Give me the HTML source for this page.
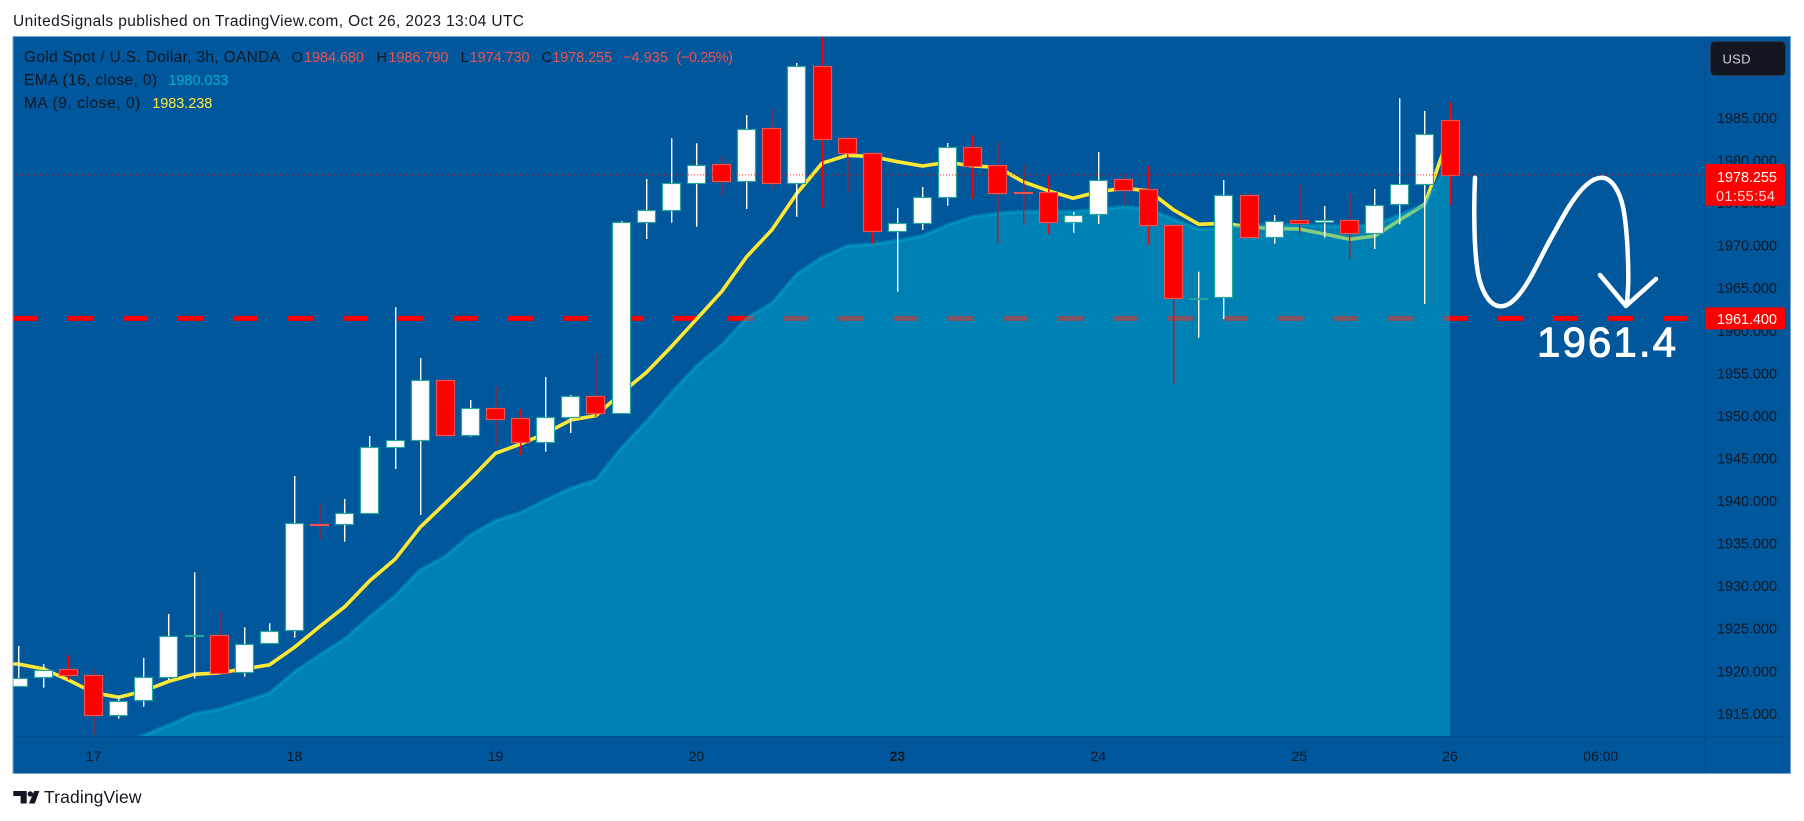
<!DOCTYPE html>
<html lang="en">
<head>
<meta charset="utf-8">
<title>Gold Spot / U.S. Dollar 3h chart</title>
<style>
html,body{margin:0;padding:0;background:#fff;width:1804px;height:821px;overflow:hidden}
svg{display:block}
text{font-family:"Liberation Sans",sans-serif}
</style>
</head>
<body>
<svg id="chart" xmlns="http://www.w3.org/2000/svg" width="1804" height="821" viewBox="0 0 1804 821">
  <defs>
    <clipPath id="pane-clip"><rect x="13.5" y="37" width="1691.5" height="699"/></clipPath>
  </defs>
  <rect x="0" y="0" width="1804" height="821" fill="#ffffff"/>
  <text x="13" y="26" font-size="15.5" fill="#131722" textLength="511" lengthAdjust="spacing">UnitedSignals published on TradingView.com, Oct 26, 2023 13:04 UTC</text>

  <rect x="13" y="36.5" width="1777.5" height="737" fill="#00579b" stroke="#7ba5cf" stroke-width="1"/>
  <line x1="1705" y1="37" x2="1705" y2="773" stroke="#004e8c" stroke-width="1"/>
  <line x1="13.5" y1="736.5" x2="1790" y2="736.5" stroke="#004e8c" stroke-width="1"/>

  <g id="plot" clip-path="url(#pane-clip)"></g>
  <g id="price-axis"></g>
  <g id="time-axis"></g>

  <g fill="none" stroke="#ffffff" stroke-width="4.5" stroke-linecap="round" stroke-linejoin="round">
    <path d="M1475 177.7C1473.5 215 1474 262 1480 281.7C1484 295 1491 306.3 1500.7 306.3C1512 306.3 1522 292 1530 278.3C1538 264 1544 251 1550 240C1558 226 1563 216 1570 205C1580 189.5 1591 177.7 1601.7 177.7C1612 177.7 1620 192 1623.3 208.3C1627 228 1628 250 1628.3 275C1628.5 288 1627.5 297 1626.7 305"/>
    <path d="M1600 275L1626 306L1656 279"/>
  </g>
  <text x="1537" y="356.7" font-size="42" fill="#ffffff" stroke="#ffffff" stroke-width="1" textLength="139" lengthAdjust="spacing">1961.4</text>

  <g font-size="14.5">
    <text x="24" y="62" fill="#131722" font-size="15.5" textLength="256" lengthAdjust="spacing">Gold Spot / U.S. Dollar, 3h, OANDA</text>
    <text x="291.5" y="62" fill="#131722">O</text>
    <text x="304" y="62" fill="#ef5350" textLength="60" lengthAdjust="spacing">1984.680</text>
    <text x="376.5" y="62" fill="#131722">H</text>
    <text x="388.4" y="62" fill="#ef5350" textLength="60" lengthAdjust="spacing">1986.790</text>
    <text x="460.8" y="62" fill="#131722">L</text>
    <text x="469.6" y="62" fill="#ef5350" textLength="60" lengthAdjust="spacing">1974.730</text>
    <text x="541.5" y="62" fill="#131722">C</text>
    <text x="552.2" y="62" fill="#ef5350" textLength="60" lengthAdjust="spacing">1978.255</text>
    <text x="623" y="62" fill="#ef5350" textLength="45" lengthAdjust="spacing">−4.935</text>
    <text x="676.5" y="62" fill="#ef5350" textLength="56.5" lengthAdjust="spacing">(−0.25%)</text>
    <text x="24" y="85" fill="#131722" font-size="15.5" textLength="133" lengthAdjust="spacing">EMA (16, close, 0)</text>
    <text x="168.4" y="85" fill="#00b0cf" textLength="60" lengthAdjust="spacing">1980.033</text>
    <text x="24" y="108" fill="#131722" font-size="15.5" textLength="116.4" lengthAdjust="spacing">MA (9, close, 0)</text>
    <text x="152.3" y="108" fill="#ffeb3b" textLength="60" lengthAdjust="spacing">1983.238</text>
  </g>

  <g>
    <rect x="1710.5" y="41.5" width="75" height="34" rx="4" fill="#131722" stroke="#2a3a55" stroke-width="1"/>
    <text x="1722.5" y="63.5" font-size="13" fill="#d1d4dc" textLength="28" lengthAdjust="spacing">USD</text>
  </g>

  <g>
    <path fill="#131722" d="M13.3 791H26.7V803.5H20.6V796H13.3Z"/>
    <circle cx="30.3" cy="794" r="2.7" fill="#131722"/>
    <path fill="#131722" d="M34.3 791H39.4L34.8 803.5H28.9Z"/>
    <text x="44" y="803" font-size="17.5" fill="#131722" textLength="97.5" lengthAdjust="spacing">TradingView</text>
  </g>
</svg>

<script>
const opens = [1918.22,1919.24,1920.18,1919.48,1914.78,1916.54,1919.31,1924.15,1924.15,1919.83,1923.23,1924.80,1937.27,1937.21,1938.50,1946.25,1947.08,1954.12,1947.73,1950.84,1949.66,1946.91,1949.78,1952.24,1950.32,1972.68,1974.09,1977.26,1979.49,1977.57,1983.72,1977.33,1991.00,1982.55,1980.86,1971.62,1972.63,1975.69,1981.49,1979.38,1976.20,1976.20,1972.75,1973.62,1977.73,1976.56,1972.33,1963.80,1963.87,1975.92,1970.99,1972.95,1972.68,1972.92,1971.39,1974.80,1977.14,1984.68];
const highs = [1922.92,1920.80,1921.83,1920.18,1917.04,1921.51,1926.68,1931.57,1926.99,1925.11,1925.58,1942.88,1939.68,1940.18,1947.58,1962.70,1956.74,1954.24,1951.81,1953.45,1950.72,1954.51,1952.40,1957.21,1972.83,1977.77,1982.55,1981.96,1980.47,1985.28,1985.95,1991.39,1994.56,1982.82,1980.93,1974.36,1976.83,1981.99,1982.90,1982.11,1979.41,1978.20,1973.89,1980.94,1978.32,1979.29,1972.56,1966.88,1977.65,1976.20,1973.54,1977.06,1974.60,1976.04,1976.59,1987.24,1985.75,1986.79];
const lows = [1918.22,1918.02,1918.92,1912.46,1914.38,1915.79,1918.92,1919.08,1919.78,1919.31,1923.23,1923.89,1935.37,1935.17,1938.50,1943.71,1938.30,1947.50,1947.50,1946.44,1945.35,1945.74,1947.93,1949.85,1950.25,1970.72,1972.63,1972.16,1975.89,1974.24,1976.56,1973.34,1974.40,1976.16,1970.21,1964.53,1971.78,1974.63,1975.42,1970.21,1972.36,1971.34,1971.46,1972.48,1974.63,1970.05,1953.72,1959.13,1961.32,1970.99,1970.17,1971.34,1970.87,1968.41,1969.54,1972.45,1963.09,1974.73];
const closes = [1919.19,1920.13,1919.48,1914.78,1916.49,1919.31,1924.13,1924.15,1919.78,1923.19,1924.72,1937.33,1937.21,1938.50,1946.25,1947.08,1954.12,1947.73,1950.84,1949.61,1946.91,1949.78,1952.24,1950.32,1972.68,1974.09,1977.26,1979.45,1977.57,1983.67,1977.33,1991.00,1982.50,1980.86,1971.62,1972.63,1975.69,1981.49,1979.33,1976.16,1976.14,1972.75,1973.57,1977.68,1976.47,1972.33,1963.76,1963.80,1975.92,1970.99,1972.87,1972.63,1972.92,1971.39,1974.75,1977.14,1983.09,1978.255];
const maValues = [1920.80,1920.22,1918.92,1917.43,1916.89,1917.63,1918.77,1919.59,1919.75,1920.22,1920.69,1922.76,1925.19,1927.53,1930.59,1933.10,1936.86,1939.68,1942.53,1945.55,1946.64,1947.90,1949.46,1949.97,1952.60,1955.02,1958.07,1961.29,1964.53,1968.64,1971.78,1976.09,1979.61,1980.55,1980.39,1979.80,1979.29,1979.73,1979.29,1979.14,1977.45,1976.39,1975.50,1976.27,1976.67,1976.39,1974.13,1972.45,1972.56,1972.13,1971.93,1971.89,1971.31,1970.68,1971.07,1972.95,1974.80,1983.238];
const emaValues = [1907.18,1908.12,1909.18,1910.12,1911.29,1912.43,1913.64,1914.93,1915.48,1916.42,1917.36,1919.90,1921.86,1923.74,1926.36,1928.79,1931.84,1933.41,1935.95,1937.63,1938.57,1940.06,1941.44,1942.41,1946.14,1949.26,1952.60,1955.80,1958.27,1961.41,1963.17,1966.61,1968.57,1969.90,1970.13,1970.52,1971.07,1972.36,1973.34,1973.74,1973.93,1973.93,1973.93,1974.24,1974.51,1974.24,1973.03,1971.86,1971.98,1972.36,1972.36,1972.36,1972.28,1972.21,1972.40,1973.54,1974.83,1980.033];
const priceTicks = [1915,1920,1925,1930,1935,1940,1945,1950,1955,1960,1965,1970,1975,1980,1985];
const timeLabels = ["17","18","19","20","23","24","25","26","06:00"];
const timeLabelBars = [3,11,19,27,35,43,51,57,63];
const boldTimeLabels = ["23"];
const supportLevel = 1961.4;
const countdownText = "01:55:54";

const SVG_NS = "http://www.w3.org/2000/svg";
const plot = document.getElementById("plot");
const priceAxis = document.getElementById("price-axis");
const timeAxis = document.getElementById("time-axis");

function xScale(bar) { return 18.2 + 25.12 * bar; }
function yScale(price) { return 117.4 + (1985 - price) * 8.514; }

function make(tag, attrs, parent) {
  const el = document.createElementNS(SVG_NS, tag);
  for (const k in attrs) el.setAttribute(k, attrs[k]);
  parent.appendChild(el);
  return el;
}

/* support level dashed line (below everything else) */
const supportLine = make("line", {x1: 13, x2: 1689, y1: yScale(supportLevel), y2: yScale(supportLevel), stroke: "#ff0000", "stroke-width": 5, "stroke-dasharray": "25 30"}, plot);



/* moving average line */
let maPath = "M" + xScale(-1) + " " + yScale(maValues[0]);
maValues.forEach(function (v, i) { maPath += "L" + xScale(i).toFixed(1) + " " + yScale(v).toFixed(1); });
const maLine = make("path", {d: maPath, fill: "none", stroke: "#ffe833", "stroke-width": 3.6, "stroke-linejoin": "round"}, plot);



/* EMA area and line, drawn translucent over the MA and support line */
let emaPath = "M" + xScale(-1) + " " + yScale(emaValues[0]);
emaValues.forEach(function (v, i) { emaPath += "L" + xScale(i).toFixed(1) + " " + yScale(v).toFixed(1); });
const lastBar = closes.length - 1;
const emaAreaPath = emaPath + "L" + xScale(lastBar).toFixed(1) + " 736L" + xScale(-1) + " 736Z";
const emaArea = make("path", {d: emaAreaPath, fill: "#00b0cf", "fill-opacity": 0.48, stroke: "none"}, plot);


const emaLine = make("path", {d: emaPath, fill: "none", stroke: "#00b0cf", "stroke-opacity": 0.42, "stroke-width": 3.6, "stroke-linejoin": "round"}, plot);



/* candles */
closes.forEach(function (close, i) {
  const open = opens[i];
  const up = close >= open;
  const cx = Math.floor(xScale(i));
  const group = make("g", {}, plot);
  
  
  const wick = make("rect", {x: cx, y: yScale(highs[i]), width: 1.4, height: Math.max(1, yScale(lows[i]) - yScale(highs[i])), fill: up ? "#ffffff" : "#ff0000"}, group);
  
  
  const top = Math.round(yScale(Math.max(open, close))) + 0.5;
  const bottom = Math.round(yScale(Math.min(open, close))) + 0.5;
  const body = make("rect", {x: cx - 8.5, y: top, width: 18, height: Math.max(1, bottom - top), fill: up ? "#ffffff" : "#ff0000", stroke: up ? "#26a69a" : "#ef5350", "stroke-width": 1.2}, group);
  
  
});

/* last price dotted line */
const lastClose = closes[lastBar];
const lastPriceLine = make("line", {x1: 13, x2: 1705, y1: yScale(lastClose), y2: yScale(lastClose), stroke: "#ff0000", "stroke-width": 1, "stroke-dasharray": "1 2", "stroke-opacity": 0.85}, plot);



/* price axis ticks */
priceTicks.forEach(function (p) {
  const t = make("text", {x: 1717, y: yScale(p) + 5.5, "font-size": 14.5, fill: "#131722", textLength: 60, lengthAdjust: "spacing"}, priceAxis);
  
  
  t.textContent = p.toFixed(3);
});

/* last price tag */
const lastTag = make("rect", {x: 1705, y: yScale(lastClose) - 10.8, width: 80, height: 41.7, rx: 2, fill: "#ff0000"}, priceAxis);


const lastText = make("text", {x: 1717, y: yScale(lastClose) + 7, "font-size": 14.5, fill: "#ffffff", textLength: 60, lengthAdjust: "spacing"}, priceAxis);


lastText.textContent = lastClose.toFixed(3);
const countdown = make("text", {x: 1716, y: yScale(lastClose) + 26, "font-size": 14.5, fill: "#ffd9d9", textLength: 59, lengthAdjust: "spacing"}, priceAxis);


countdown.textContent = countdownText;

/* support level tag */
const supportTag = make("rect", {x: 1705, y: yScale(supportLevel) - 11, width: 80, height: 22, rx: 2, fill: "#ff0000"}, priceAxis);


const supportText = make("text", {x: 1717, y: yScale(supportLevel) + 5.5, "font-size": 14.5, fill: "#ffffff", textLength: 60, lengthAdjust: "spacing"}, priceAxis);


supportText.textContent = supportLevel.toFixed(3);

/* time axis labels */
timeLabels.forEach(function (label, i) {
  const isBold = boldTimeLabels.indexOf(label) !== -1;
  const t = make("text", {x: xScale(timeLabelBars[i]), y: 761, "font-size": 14, "text-anchor": "middle", fill: "#131722", "font-weight": isBold ? "bold" : "normal"}, timeAxis);
  
  
  t.textContent = label;
});
</script>
</body>
</html>
